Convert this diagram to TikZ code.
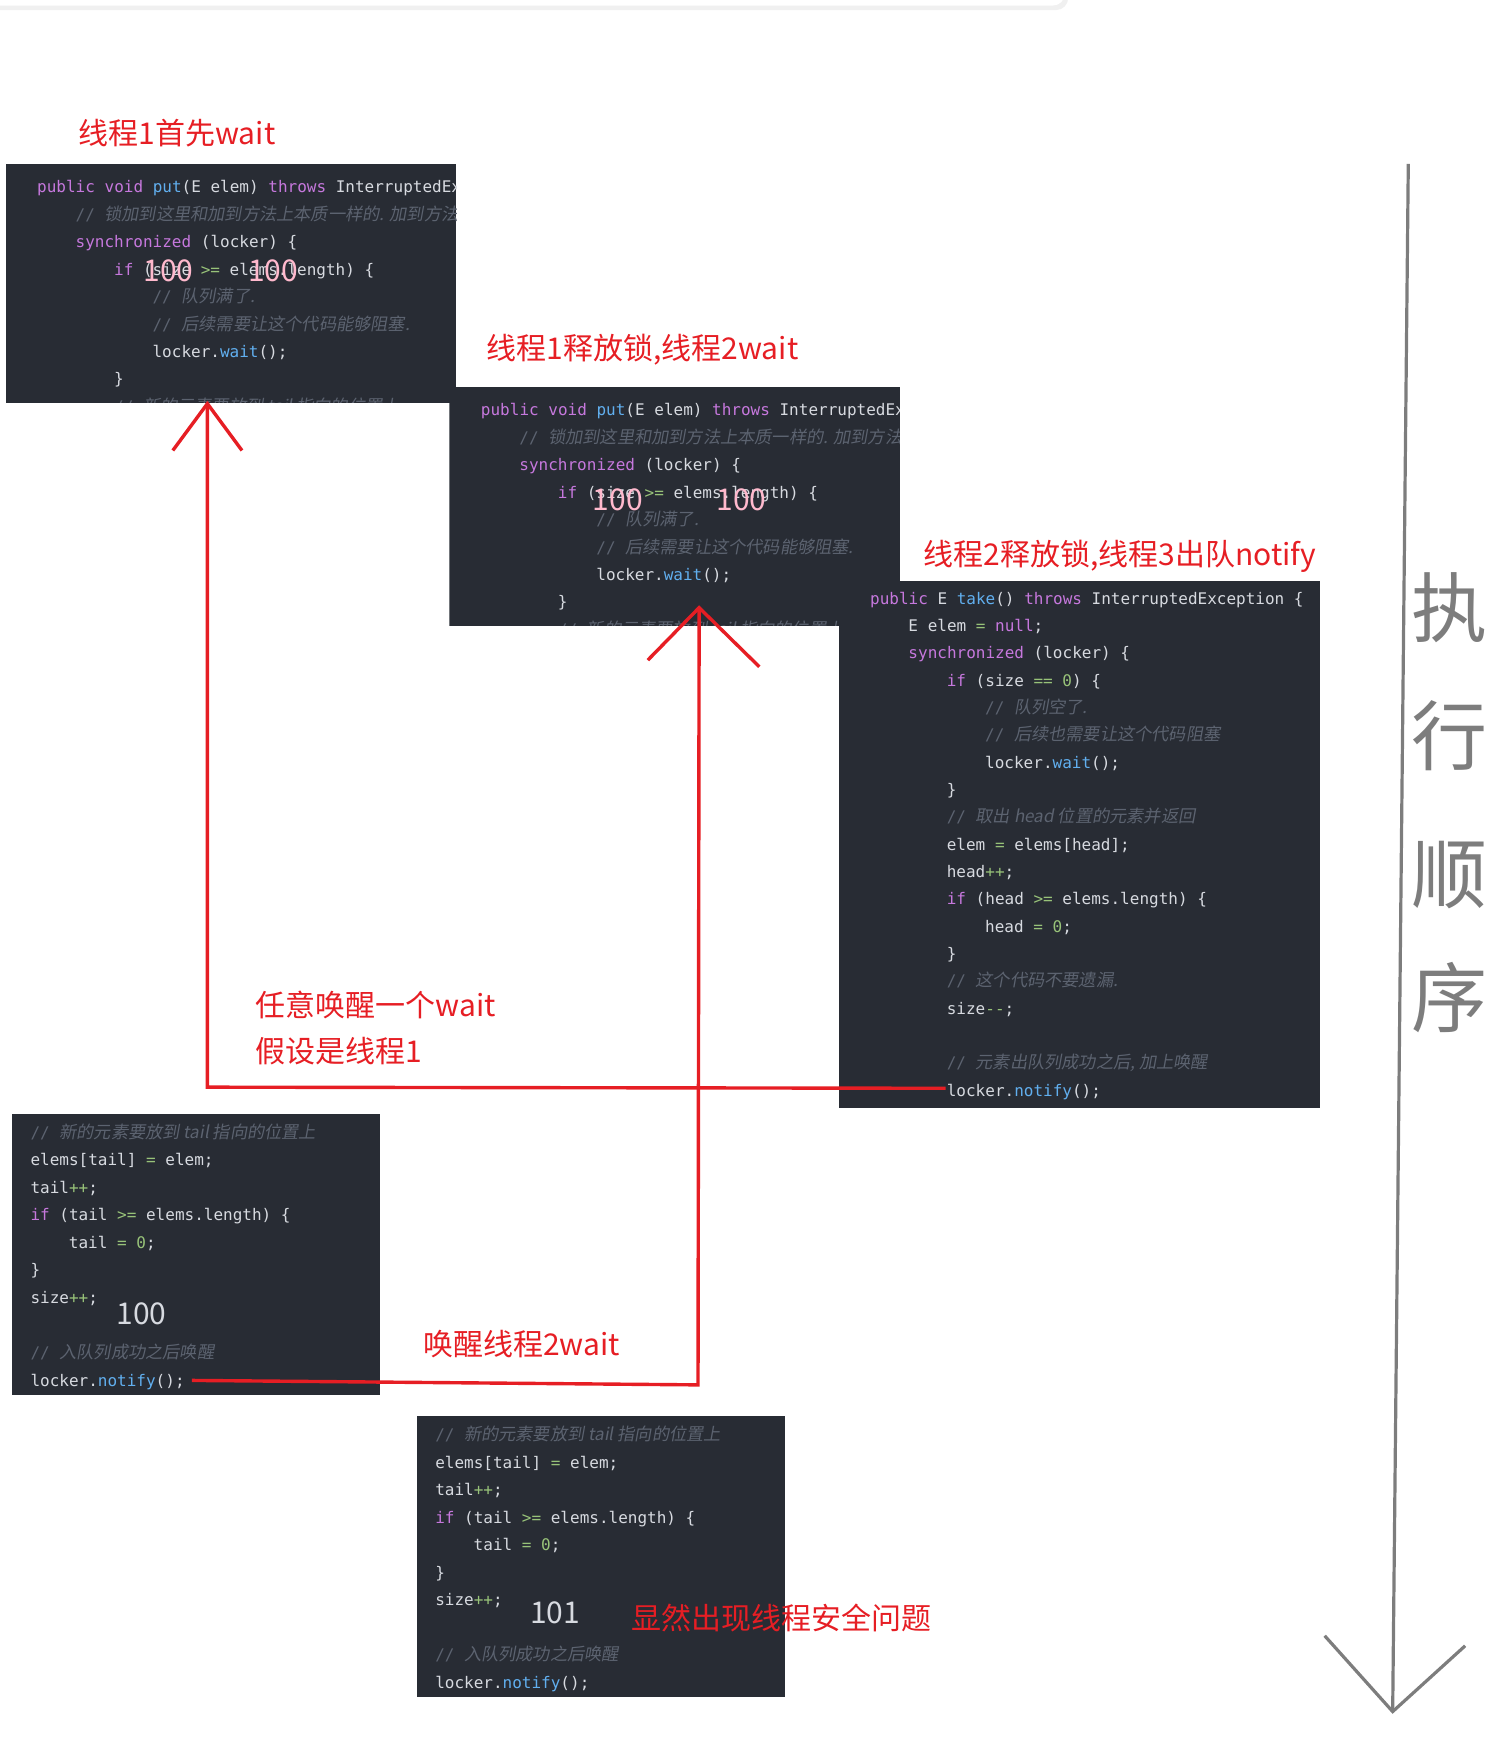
\documentclass[tikz,border=0pt]{standalone}
\usepackage{fontspec}
\setmainfont{Liberation Sans}
\newfontfamily\codefont{DejaVu Sans Mono}
\newfontfamily\cjk{Noto Sans CJK SC}
\newfontfamily\cjkit{Noto Sans CJK SC}[FakeSlant=0.18]
\definecolor{bg}{RGB}{40,44,52}
\definecolor{txt}{RGB}{215,218,224}
\definecolor{kwc}{RGB}{198,120,221}
\definecolor{fnc}{RGB}{97,175,239}
\definecolor{opc}{RGB}{152,195,121}
\definecolor{cmc}{RGB}{92,99,112}
\definecolor{redc}{RGB}{230,30,36}
\definecolor{grayc}{RGB}{125,125,125}
\definecolor{pinkc}{RGB}{255,185,205}
\newcommand\kw[1]{{\color{kwc}#1}}
\newcommand\fn[1]{{\color{fnc}#1}}
\newcommand\op[1]{{\color{opc}#1}}
\newcommand\cm[1]{{\color{cmc}// {\cjkit\fontsize{8.6}{10}\selectfont #1}}}
\newcommand\cl[3]{\node[code] at ({\ox+\ind*#2},{\oy+\st*#1+6}) {#3};}
\begin{document}
\begin{tikzpicture}[x=0.5575pt,y=-0.5575pt,
  code/.style={anchor=base west,inner sep=0pt,text=txt,font=\codefont\fontsize{8}{10}\selectfont},
  lbl/.style={anchor=west,inner sep=0pt,text=redc,font=\cjk\fontsize{15}{18}\selectfont},
  big/.style={inner sep=0pt,font=\cjk\fontsize{15}{18}\selectfont},
  rl/.style={draw=redc,line width=1.7pt},
  gl/.style={draw=grayc,line width=1.6pt}]
\useasboundingbox (0,0) rectangle (1350.7,1559.6);
% top card edge
\fill[gray!12,rounded corners=6pt] (-20,-40) rectangle (958,9);
\fill[white,rounded corners=6pt] (-20,-40) rectangle (955,5);
% ---------- box1 / box2 ----------
\foreach \sx/\sy/\nm in {0/0/b1,398/200/b2}{
\begin{scope}[shift={(\sx,\sy)}]
\begin{scope}
\clip (5,147) rectangle (409,361);
\fill[bg] (5,147) rectangle (409,361);
\def\ox{33}\def\oy{167}\def\st{24.6}\def\ind{34.5}
\cl{0}{0}{\kw{public} \kw{void} \fn{put}(E elem) \kw{throws} InterruptedException \{}
\cl{1}{1}{\cm{锁加到这里和加到方法上本质一样的. 加到方法上}}
\cl{2}{1}{\kw{synchronized} (locker) \{}
\cl{3}{2}{\kw{if} (size \op{>=} elems.length) \{}
\cl{4}{3}{\cm{队列满了.}}
\cl{5}{3}{\cm{后续需要让这个代码能够阻塞.}}
\cl{6}{3}{locker.\fn{wait}();}
\cl{7}{2}{\}}
\cl{8}{2}{\cm{新的元素要放到 tail 指向的位置上}}
\end{scope}
\end{scope}}
\node[big,text=pinkc] (h1) at (151,243) {100};
\node[big,text=pinkc] (h2) at (245,243) {100};
\node[big,text=pinkc] (h3) at (554,448) {100};
\node[big,text=pinkc] (h4) at (665,448) {100};
% ---------- box3 ----------
\fill[bg] (752,521) rectangle (1184,994);
\begin{scope}
\def\ox{780}\def\oy{536}\def\st{24.5}\def\ind{34.4}
\cl{0}{0}{\kw{public} E \fn{take}() \kw{throws} InterruptedException \{}
\cl{1}{1}{E elem \op{=} \kw{null};}
\cl{2}{1}{\kw{synchronized} (locker) \{}
\cl{3}{2}{\kw{if} (size \op{==} \op{0}) \{}
\cl{4}{3}{\cm{队列空了.}}
\cl{5}{3}{\cm{后续也需要让这个代码阻塞}}
\cl{6}{3}{locker.\fn{wait}();}
\cl{7}{2}{\}}
\cl{8}{2}{\cm{取出 head 位置的元素并返回}}
\cl{9}{2}{elem \op{=} elems[head];}
\cl{10}{2}{head\op{++};}
\cl{11}{2}{\kw{if} (head \op{>=} elems.length) \{}
\cl{12}{3}{head \op{=} \op{0};}
\cl{13}{2}{\}}
\cl{14}{2}{\cm{这个代码不要遗漏.}}
\cl{15}{2}{size\op{--};}
\cl{17}{2}{\cm{元素出队列成功之后, 加上唤醒}}
\cl{18}{2}{locker.\fn{notify}();}
\end{scope}
% ---------- box4 / box5 ----------
\foreach \sx/\sy in {0/0,363/271}{
\begin{scope}[shift={(\sx,\sy)}]
\fill[bg] (11,999) rectangle (341,1251);
\def\ox{27}\def\oy{1015}\def\st{24.67}\def\ind{34.5}
\cl{0}{0}{\cm{新的元素要放到 tail 指向的位置上}}
\cl{1}{0}{elems[tail] \op{=} elem;}
\cl{2}{0}{tail\op{++};}
\cl{3}{0}{\kw{if} (tail \op{>=} elems.length) \{}
\cl{4}{1}{tail \op{=} \op{0};}
\cl{5}{0}{\}}
\cl{6}{0}{size\op{++};}
\cl{8}{0}{\cm{入队列成功之后唤醒}}
\cl{9}{0}{locker.\fn{notify}();}
\end{scope}}
\node[big,text=txt] (n100) at (127,1178) {100};
\node[big,text=txt] (n101) at (498,1446) {101};
% ---------- labels ----------
\node[lbl] (t1) at (70,119) {线程1首先wait};
\node[lbl] (t2) at (436,314) {线程1释放锁,线程2wait};
\node[lbl] (t3) at (828,499) {线程2释放锁,线程3出队notify};
\node[lbl] (t4) at (229,901) {任意唤醒一个wait};
\node[lbl] (t5) at (229,943) {假设是线程1};
\node[lbl] (t6) at (379,1205) {唤醒线程2wait};
\node[lbl] (t7) at (566,1451) {显然出现线程安全问题};
% ---------- red connectors ----------
\coordinate (tipA) at (186,362);
\coordinate (cornA) at (186,975);
\coordinate (notifyB3) at (848,976);
\coordinate (tipB) at (627,545);
\coordinate (cornB) at (626,1242);
\coordinate (notifyB4) at (172,1238);
\coordinate (a1l) at (155,404);\coordinate (a1r) at (217,404);
\coordinate (a2l) at (581,592);\coordinate (a2r) at (681,598);
\draw[rl] (notifyB3) -- (cornA) -- (tipA);
\draw[rl] (a1l) -- (tipA) -- (a1r);
\draw[rl] (notifyB4) -- (cornB) -- (tipB);
\draw[rl] (a2l) -- (tipB) -- (a2r);
% ---------- gray arrow ----------
\coordinate (gtop) at (1263,147);
\coordinate (gtip) at (1249,1535);
\coordinate (gl) at (1188,1467);\coordinate (gr) at (1314,1476);
\draw[gl] (gtop) -- (gtip);
\draw[gl] (gl) -- (gtip) -- (gr);
\foreach \c/\yy/\nm in {执/545/o1,行/660/o2,顺/785/o3,序/895/o4}
  \node[inner sep=0pt,text=grayc,font=\cjk\fontsize{38}{40}\selectfont] (\nm) at (1300,\yy) {\c};
\end{tikzpicture}
\end{document}
